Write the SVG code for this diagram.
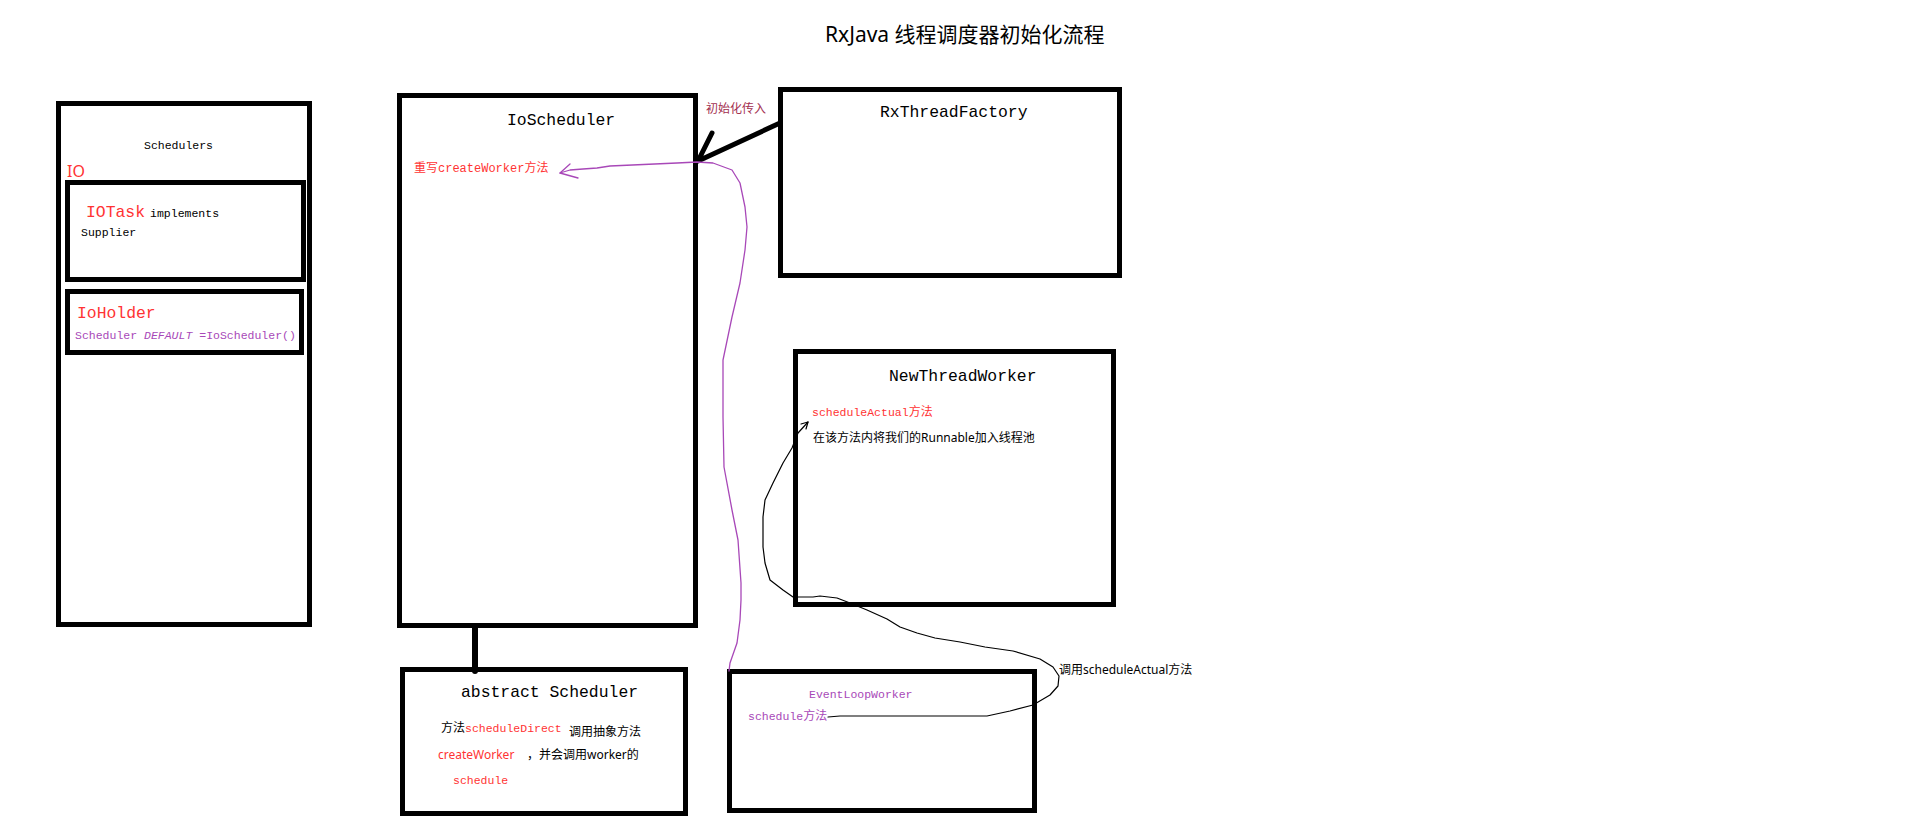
<svg xmlns="http://www.w3.org/2000/svg" width="1914" height="828" viewBox="0 0 1914 828">
<style>
.box{fill:#fff;stroke:#000;stroke-width:5}
.mono{font-family:"Liberation Mono","Noto Sans CJK SC",monospace}
.sans{font-family:"Noto Sans","Noto Sans CJK SC",sans-serif}
.red{fill:#f33}
.pur{fill:#a848b8}
.blk{fill:#000}
.t16{font-size:16.4px}
.t11{font-size:11.5px}
.t12{font-size:12px}
</style>
<rect width="1914" height="828" fill="#fff"/>
<text x="825" y="42" class="sans blk" font-size="21">RxJava 线程调度器初始化流程</text>

<g id="schedulers">
<rect class="box" x="58.5" y="103.5" width="251" height="521"/>
<text x="144" y="149" class="mono blk t11">Schedulers</text>
<text x="67" y="177" class="sans red" font-size="16">IO</text>
</g>
<g id="iotask">
<rect class="box" x="67.5" y="182.5" width="236" height="97"/>
<text x="86" y="217" class="mono"><tspan class="red t16">IOTask</tspan><tspan class="blk t11" dx="5">implements</tspan></text>
<text x="81" y="236" class="mono blk t11">Supplier</text>
</g>
<g id="ioholder">
<rect class="box" x="67.5" y="291.5" width="234" height="61"/>
<text x="77" y="318" class="mono red t16">IoHolder</text>
<text x="75" y="339" class="mono pur t11">Scheduler <tspan font-style="italic">DEFAULT</tspan> =IoScheduler()</text>
</g>
<g id="ioscheduler">
<rect class="box" x="399.5" y="95.5" width="296" height="530"/>
<text x="507" y="125" class="mono blk t16">IoScheduler</text>
<text x="414" y="172" class="mono red t12">重写createWorker方法</text>
</g>
<g id="rxthreadfactory">
<rect class="box" x="780.5" y="89.5" width="339" height="186"/>
<text x="880" y="117" class="mono blk t16">RxThreadFactory</text>
</g>
<g id="newthreadworker">
<rect class="box" x="795.5" y="351.5" width="318" height="253"/>
<text x="889" y="381" class="mono blk t16">NewThreadWorker</text>
<text x="812" y="416" class="mono red t11">scheduleActual<tspan class="sans t12">方法</tspan></text>
<text x="813" y="442" class="sans blk t12">在该方法内将我们的Runnable加入线程池</text>
</g>
<g id="abstractscheduler">
<rect class="box" x="402.5" y="669.5" width="283" height="144"/>
<text x="461" y="697" class="mono blk t16">abstract Scheduler</text>
<text x="441" y="732" class="sans blk t12">方法<tspan class="mono red t11">scheduleDirect</tspan></text>
<text x="569" y="736" class="sans blk t12">调用抽象方法</text>
<text x="438" y="759" class="sans red t12">createWorker</text>
<text x="527" y="759" class="sans blk t12">，并会调用worker的</text>
<text x="453" y="784" class="mono red t11">schedule</text>
</g>
<g id="eventloopworker">
<rect class="box" x="729.5" y="671.5" width="305" height="139"/>
<text x="809" y="698" class="mono pur t11">EventLoopWorker</text>
<text x="748" y="720" class="mono pur t11">schedule<tspan class="sans t12">方法</tspan></text>
</g>

<g id="connectors" fill="none" stroke-linejoin="round" stroke-linecap="round">
<line x1="475" y1="628" x2="475" y2="671" stroke="#000" stroke-width="6"/>
<path d="M780,123 L698,161 L712,133" stroke="#000" stroke-width="5"/>
<text x="706" y="113" class="sans t12" fill="#a33050" stroke="none">初始化传入</text>
<path d="M729,671 L730,663 L737,643 L740,620 L741,600 L741,583 L738,540 L732,510 L724,467 L723,417 L723,360 L732,317 L740,283 L745,250 L747,227 L745,207 L740,183 L732,170 L713,163 L697,162 L677,163 L610,166 L597,168 L583,169 L570,170 L560,173" stroke="#a848b8" stroke-width="1.3"/>
<path d="M570,164 L560,173 L578,178" stroke="#a848b8" stroke-width="1.3"/>
<path d="M828,717 L840,716 L987,716 L1010,711 L1033,705 L1050,695 L1058,686 L1059,676 L1053,667 L1040,659 L1013,651 L985,647 L960,642 L935,638 L917,633 L900,627 L887,619 L867,610 L850,603 L837,598 L820,596 L813,597 L793,597 L783,590 L770,580 L765,563 L763,547 L763,517 L765,500 L773,483 L783,463 L792,448 L798,433 L808,422" stroke="#000" stroke-width="1.2"/>
<path d="M801,424 L808,422 L806,429" stroke="#000" stroke-width="1.2"/>
<text x="1059" y="674" class="sans blk t12" stroke="none">调用scheduleActual方法</text>
</g>
</svg>
